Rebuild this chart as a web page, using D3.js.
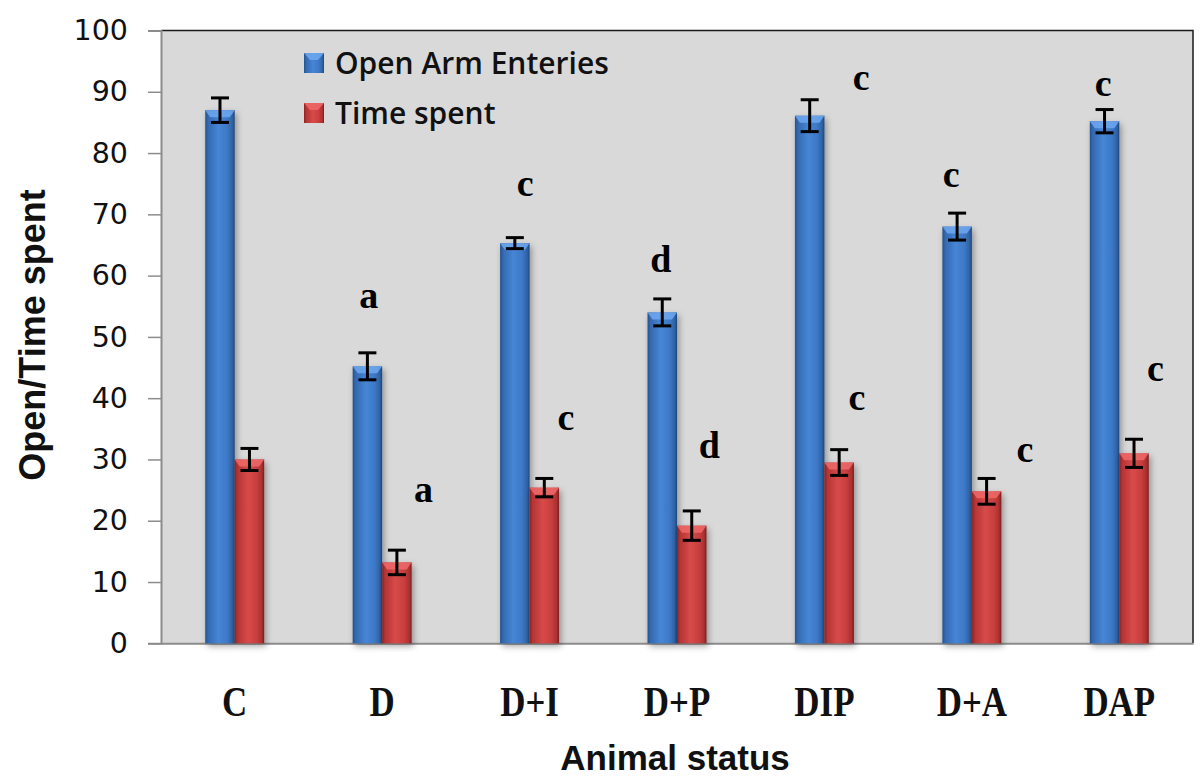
<!DOCTYPE html>
<html>
<head>
<meta charset="utf-8">
<script src="https://cdn.jsdelivr.net/npm/d3@7/dist/d3.min.js"></script>
<style>
  html, body { margin: 0; padding: 0; background: #ffffff; }
  svg { display: block; }
</style>
</head>
<body>
<svg id="chart" width="1200" height="781"></svg>
<script>
// ---- data ----
const categories = ["C", "D", "D+I", "D+P", "DIP", "D+A", "DAP"];
const seriesNames = ["Open Arm Enteries", "Time spent"];
const openArm = [87.0, 45.2, 65.3, 54.0, 86.1, 68.0, 85.2];
const openArmErr = [2.0, 2.2, 0.9, 2.2, 2.6, 2.2, 1.9];
const timeSpent = [30.0, 13.2, 25.4, 19.2, 29.5, 24.8, 31.0];
const timeSpentErr = [1.8, 2.0, 1.5, 2.4, 2.1, 2.1, 2.3];
const yTicks = [0, 10, 20, 30, 40, 50, 60, 70, 80, 90, 100];
// significance letters: category, series index, letter, value level, offset in bar widths
const letterCats = ["D", "D", "D+I", "D+I", "D+P", "D+P", "DIP", "DIP", "D+A", "D+A", "DAP", "DAP"];
const letterSeries = [0, 1, 0, 1, 0, 1, 0, 1, 0, 1, 0, 1];
const letterTexts = ["a", "a", "c", "c", "d", "d", "c", "c", "c", "c", "c", "c"];
const letterLevels = [56.6, 25.0, 74.8, 36.7, 62.5, 32.1, 92.2, 40.0, 76.3, 31.5, 91.1, 44.6];
const letterShift = [0.05, 0.9, 0.35, 0.73, -0.05, 0.6, 1.75, 0.6, -0.2, 1.3, -0.05, 0.73];

// ---- layout ----
const svg = d3.select("#chart");
const L = 161, R = 1193, T = 30.5, B = 643.3;

const x0 = d3.scaleBand().domain(categories).range([L, R]).paddingInner(0.6).paddingOuter(0.3);
const x1 = d3.scaleBand().domain([0, 1]).range([0, x0.bandwidth()]);
const y = d3.scaleLinear().domain([0, 100]).range([B, T]);

const defs = svg.append("defs");
function grad(id, stops) {
  const g = defs.append("linearGradient").attr("id", id).attr("x1", "0").attr("x2", "1").attr("y1", "0").attr("y2", "0");
  stops.forEach(s => g.append("stop").attr("offset", s[0]).attr("stop-color", s[1]));
}
grad("gBlue", [[0, "#24518c"], [0.1, "#3469b0"], [0.45, "#4686d6"], [0.75, "#3d78c6"], [0.92, "#2f62a3"], [1, "#1f4478"]]);
grad("gRed", [[0, "#8a2222"], [0.1, "#b43434"], [0.45, "#d84a4a"], [0.75, "#c83e3e"], [0.92, "#aa3030"], [1, "#7a1c1c"]]);
const f = defs.append("filter").attr("id", "shadow").attr("x", "-20%").attr("y", "-5%").attr("width", "150%").attr("height", "115%");
f.append("feDropShadow").attr("dx", 2).attr("dy", 3).attr("stdDeviation", 3).attr("flood-color", "#000").attr("flood-opacity", 0.35);

// plot background
svg.append("rect").attr("x", L).attr("y", T).attr("width", R - L).attr("height", B - T).attr("fill", "#d9d9d9");
// top & right border
svg.append("path").attr("d", `M${L},${T}H${R}V${B}`).attr("fill", "none").attr("stroke", "#1a1a1a").attr("stroke-width", 1.5);

// y axis
const yAxis = svg.append("g").attr("transform", `translate(${L},0)`)
  .call(d3.axisLeft(y).tickValues(yTicks).tickSize(13).tickPadding(20).tickFormat(d3.format("d")));
yAxis.select(".domain").attr("stroke", "#8c8c8c").attr("stroke-width", 2);
yAxis.selectAll(".tick line").attr("stroke", "#8c8c8c").attr("stroke-width", 1.5);
yAxis.selectAll("text").attr("font-family", "DejaVu Sans, sans-serif").attr("font-size", 28.5).attr("fill", "#111");

// x axis baseline
const xAxis = svg.append("g").attr("transform", `translate(0,${B})`)
  .call(d3.axisBottom(x0).tickSize(0).tickPadding(48));
xAxis.select(".domain").attr("stroke", "#8c8c8c").attr("stroke-width", 2);
xAxis.selectAll("text")
  .attr("font-family", "Liberation Serif, Times New Roman, serif")
  .attr("font-weight", "bold").attr("font-size", 36).attr("fill", "#111")
  .attr("dy", 0).attr("y", 0)
  .attr("transform", "translate(0,73) scale(0.97,1.18)");

// bars
const seriesVals = [openArm, timeSpent];
const seriesErrs = [openArmErr, timeSpentErr];
const fills = ["url(#gBlue)", "url(#gRed)"];
const tops = ["#6fa8ee", "#ee6a6a"];
const barData = [];
categories.forEach((c, i) => {
  [0, 1].forEach(s => barData.push({ cat: c, s: s, v: seriesVals[s][i], e: seriesErrs[s][i] }));
});
const bw = x1.bandwidth();
const bars = svg.append("g").selectAll("g").data(barData).join("g")
  .attr("transform", d => `translate(${x0(d.cat) + x1(d.s)},0)`);
bars.append("rect").attr("x", 0).attr("y", d => y(d.v)).attr("width", bw).attr("height", d => B - y(d.v))
  .attr("fill", d => fills[d.s]).attr("filter", "url(#shadow)");
// top bevel
bars.append("path")
  .attr("d", d => { const t = y(d.v); return `M0,${t}H${bw}L${bw - 5},${t + 7}H5Z`; })
  .attr("fill", d => tops[d.s]).attr("opacity", 0.85);
// error bars
const eb = bars.append("g").attr("stroke", "#000").attr("stroke-width", 3);
eb.append("line").attr("x1", bw / 2).attr("x2", bw / 2).attr("y1", d => y(d.v + d.e)).attr("y2", d => y(d.v - d.e));
eb.append("line").attr("x1", bw / 2 - 9).attr("x2", bw / 2 + 9).attr("y1", d => y(d.v + d.e)).attr("y2", d => y(d.v + d.e));
eb.append("line").attr("x1", bw / 2 - 9).attr("x2", bw / 2 + 9).attr("y1", d => y(d.v - d.e)).attr("y2", d => y(d.v - d.e));

// significance letters
svg.append("g").selectAll("text").data(letterTexts.map((t, i) => ({ t, i }))).join("text")
  .attr("x", d => x0(letterCats[d.i]) + x1(letterSeries[d.i]) + bw / 2 + letterShift[d.i] * bw)
  .attr("y", d => y(letterLevels[d.i]))
  .attr("dy", "0.3em")
  .attr("text-anchor", "middle")
  .attr("font-family", "Liberation Serif, Times New Roman, serif")
  .attr("font-weight", "bold").attr("font-size", 38).attr("fill", "#000")
  .text(d => d.t);

// legend
const leg = svg.append("g").attr("transform", "translate(304,53)");
seriesNames.forEach((n, i) => {
  const g = leg.append("g").attr("transform", `translate(0,${i * 50})`);
  g.append("rect").attr("width", 20).attr("height", 20).attr("fill", fills[i]);
  g.append("path").attr("d", "M0,0H20L14,7H6Z").attr("fill", tops[i]).attr("opacity", 0.85);
  g.append("text").attr("x", 31).attr("y", 10).attr("dy", "0.36em")
    .attr("font-family", "Open Sans, sans-serif").attr("font-weight", 600).attr("font-size", 30).attr("fill", "#111")
    .text(n);
});

// axis titles
svg.append("text").attr("transform", "translate(45,335) rotate(-90)").attr("text-anchor", "middle")
  .attr("font-family", "Liberation Sans, Arial, sans-serif").attr("font-weight", "bold").attr("font-size", 36).attr("fill", "#111")
  .text("Open/Time spent");
svg.append("text").attr("x", 675).attr("y", 770).attr("text-anchor", "middle")
  .attr("font-family", "Liberation Sans, Arial, sans-serif").attr("font-weight", "bold").attr("font-size", 35).attr("fill", "#111")
  .text("Animal status");
</script>
</body>
</html>
